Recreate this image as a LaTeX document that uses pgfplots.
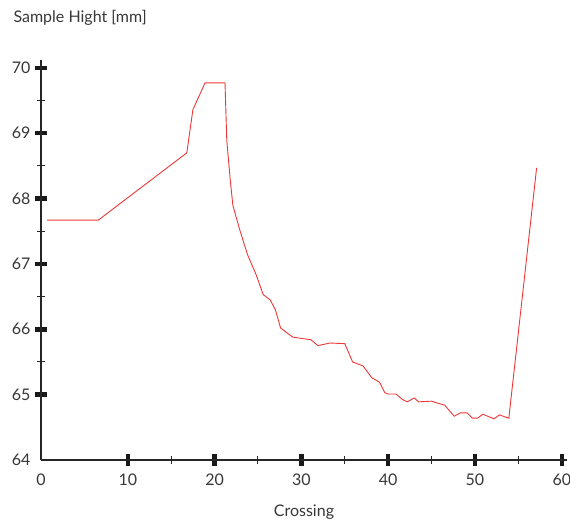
\documentclass[border=0pt]{standalone}
\usepackage{pgfplots}
\pgfplotsset{compat=1.18}
\usepackage{fontspec}
\setmainfont{Lato}
\definecolor{txt}{RGB}{55,55,55}
\definecolor{curve}{RGB}{238,55,55}
\begin{document}
\begin{tikzpicture}
\begin{axis}[
  name=ax,
  scale only axis,
  width=526pt, height=400pt,
  xmin=0, xmax=60.6, ymin=64, ymax=70.12,
  axis lines*=left,
  axis line style={line width=1.3pt, black!85},
  xtick={10,20,...,60}, ytick={65,...,70},
  extra x ticks={0}, extra y ticks={64},
  extra tick style={tick style={draw=none}},
  minor x tick num=1, minor y tick num=1,
  tick align=center,
  major tick length=12pt, minor tick length=8pt,
  major tick style={line width=4.5pt, black!90},
  minor tick style={line width=1pt, black!85},
  ticklabel style={font=\fontsize{16}{19}\selectfont, text=txt},
  /pgf/number format/assume math mode=true,
  xticklabel style={yshift=-4pt},
  yticklabel style={xshift=-1pt},
  xlabel={Crossing},
  xlabel style={font=\fontsize{16}{19}\selectfont, text=txt, yshift=-1pt},
  ylabel={Sample Hight [mm]},
  ylabel style={font=\fontsize{16}{19}\selectfont, text=txt, rotate=-90,
    at={(axis description cs:0,1)}, anchor=south west, xshift=-31pt, yshift=31pt},
  clip=false,
]
\addplot[curve, line width=0.9pt] coordinates {
  (0.7,67.67) (6.6,67.67) (16.8,68.70) (17.5,69.36) (18.9,69.77) (21.2,69.77)
  (21.4,68.90) (21.8,68.29) (22.1,67.90) (22.9,67.52) (23.8,67.14) (24.8,66.83)
  (25.6,66.53) (26.4,66.45) (27.0,66.30) (27.6,66.02) (29.0,65.88) (31.1,65.84)
  (31.9,65.75) (33.3,65.79) (35.0,65.78) (35.9,65.50) (37.1,65.44) (38.1,65.26)
  (39.0,65.19) (39.6,65.03) (40.0,65.01) (40.9,65.01) (41.6,64.93) (42.2,64.89)
  (43.0,64.95) (43.5,64.89) (45.0,64.90) (45.7,64.87) (46.5,64.84) (47.6,64.67)
  (48.3,64.72) (49.1,64.72) (49.7,64.64) (50.3,64.64) (50.9,64.70) (52.2,64.63)
  (52.8,64.69) (53.9,64.64) (57.1,68.47)
};
\end{axis}
\pgfresetboundingbox
\path ([xshift=-41pt,yshift=-60pt]ax.south west) rectangle ([xshift=3pt,yshift=60pt]ax.north east);
\end{tikzpicture}
\end{document}
